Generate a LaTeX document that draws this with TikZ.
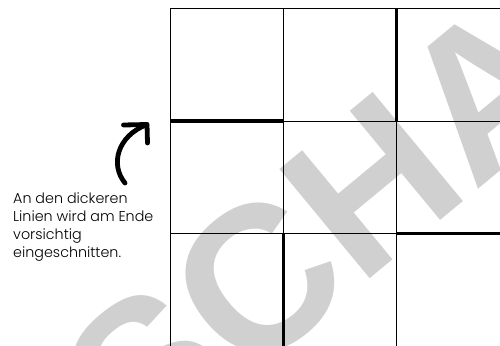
\documentclass[tikz,border=0pt]{standalone}
\usepackage{fontspec}
\setmainfont{Poppins}[UprightFont=* Light]
\newfontfamily\wmfont{Liberation Sans}[BoldFont=* Bold]
\definecolor{wmgray}{RGB}{208,208,208}
\tikzset{
  thinline/.style={line width=1pt, draw=black},
  thickline/.style={line width=3.6pt, draw=black},
  arrowline/.style={line width=4.8pt, line cap=round, line join=round},
  note/.style={align=left, anchor=north west, inner sep=0pt, font=\fontsize{14.3}{17.7}\selectfont},
  watermark/.style={anchor=base west, inner sep=0pt, text=wmgray, rotate=39.6,
    font=\wmfont\bfseries\fontsize{206}{206}\selectfont}
}
\begin{document}
\begin{tikzpicture}[x=1pt,y=-1pt]
\useasboundingbox (0,0) rectangle (500,345);
\clip (0,0) rectangle (500,345);
\fill[white] (0,0) rectangle (500,345);
% watermark
\node[watermark] (wm) at (139,470) {SCHA};
% grid
\draw[thinline] (170.5,8.5) -- (170.5,350);
\draw[thinline] (283.5,8.5) -- (283.5,350);
\draw[thinline] (396.5,8.5) -- (396.5,350);
\draw[thinline] (170.5,8.5) -- (505,8.5);
\draw[thinline] (170.5,121) -- (505,121);
\draw[thinline] (170.5,233.5) -- (505,233.5);
% thick cut lines
\draw[thickline] (170.5,121) -- (283.5,121);
\draw[thickline] (396.5,8.5) -- (396.5,121);
\draw[thickline] (396.5,233.5) -- (505,233.5);
\draw[thickline] (283.5,233.5) -- (283.5,350);
% arrow
\coordinate (tail) at (125,183);
\coordinate (tip) at (147,124.5);
\coordinate (armL) at (123.5,125);
\coordinate (armD) at (147.5,143);
\draw[arrowline] (tail) .. controls (110,165) and (117,136) .. (tip);
\draw[arrowline] (armL) -- (tip) -- (armD);
% text
\node[note] (txt) at (13,193) {An den dickeren\\Linien wird am Ende\\vorsichtig\\eingeschnitten.};
\end{tikzpicture}
\end{document}
